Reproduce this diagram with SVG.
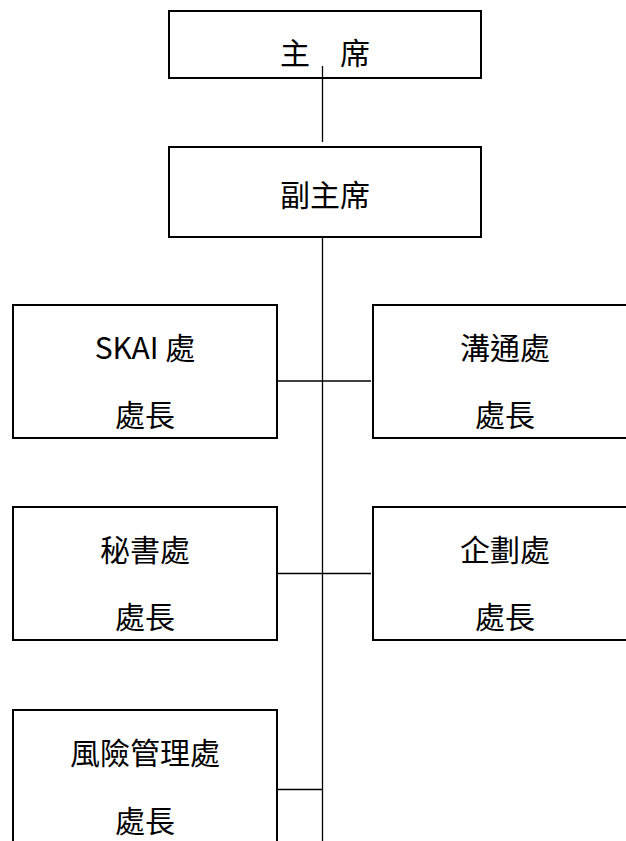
<svg xmlns="http://www.w3.org/2000/svg" width="626" height="841" viewBox="0 0 626 841">
<style>
.box{fill:#fff;stroke:#000;stroke-width:2}
.t{font-family:"Noto Sans CJK TC","Noto Sans CJK JP",sans-serif;font-size:30px;fill:#000;text-anchor:middle}
.c{stroke:#000;stroke-width:1.3;fill:none}
</style>
<rect width="626" height="841" fill="#fff"/>
<g id="connectors">
<line class="c" x1="322.5" y1="68" x2="322.5" y2="142"/>
<line class="c" x1="322.5" y1="237" x2="322.5" y2="841"/>
<line class="c" x1="273.5" y1="381" x2="371" y2="381"/>
<line class="c" x1="274.5" y1="573.5" x2="371" y2="573.5"/>
<line class="c" x1="273.5" y1="789.5" x2="322.5" y2="789.5"/>
</g>
<g id="chairman">
<rect class="box" x="169" y="11" width="312" height="67"/>
<text class="t" x="325" y="64">主　席</text>
</g>
<line class="c" x1="322.5" y1="66" x2="322.5" y2="78"/>
<g id="vice-chairman">
<rect class="box" x="169" y="147" width="312" height="90"/>
<text class="t" x="325" y="206">副主席</text>
</g>
<g id="skai">
<rect class="box" x="13" y="305" width="264" height="133"/>
<text class="t" x="145" y="359">SKAI 處</text>
<text class="t" x="145" y="426">處長</text>
</g>
<g id="communication">
<rect class="box" x="373" y="305" width="264" height="133"/>
<text class="t" x="505" y="359">溝通處</text>
<text class="t" x="505" y="426">處長</text>
</g>
<g id="secretariat">
<rect class="box" x="13" y="507" width="264" height="133"/>
<text class="t" x="145" y="561">秘書處</text>
<text class="t" x="145" y="628">處長</text>
</g>
<g id="planning">
<rect class="box" x="373" y="507" width="264" height="133"/>
<text class="t" x="505" y="561">企劃處</text>
<text class="t" x="505" y="628">處長</text>
</g>
<g id="risk">
<rect class="box" x="13" y="710" width="264" height="150"/>
<text class="t" x="145" y="764">風險管理處</text>
<text class="t" x="145" y="832">處長</text>
</g>
</svg>
